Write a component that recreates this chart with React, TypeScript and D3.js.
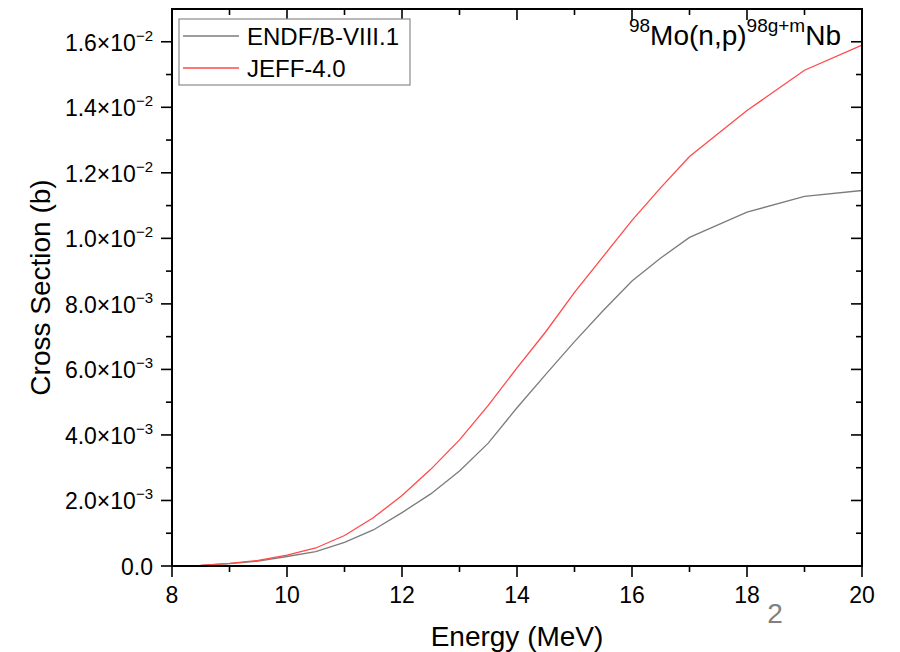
import React from "react";
import * as d3 from "d3";

const energy = [8, 8.5, 9, 9.5, 10, 10.5, 11, 11.5, 12, 12.5, 13, 13.5, 14, 14.5, 15, 15.5, 16, 16.5, 17, 18, 19, 20];
const endf = [0.0, 0.02, 0.07, 0.15, 0.29, 0.44, 0.72, 1.1, 1.63, 2.2, 2.9, 3.75, 4.83, 5.85, 6.85, 7.8, 8.7, 9.4, 10.03, 10.8, 11.28, 11.46].map((v) => v * 1e-3);
const jeff = [0.0, 0.02, 0.08, 0.17, 0.33, 0.55, 0.93, 1.47, 2.15, 2.95, 3.85, 4.9, 6.05, 7.15, 8.35, 9.45, 10.55, 11.55, 12.5, 13.9, 15.13, 15.9].map((v) => v * 1e-3);

const xTicks = [8, 10, 12, 14, 16, 18, 20];
const xMinor = [9, 11, 13, 15, 17, 19];
const yTicks = [0, 0.002, 0.004, 0.006, 0.008, 0.01, 0.012, 0.014, 0.016];
const yTickLabels: [string, string][] = [
  ["0.0", ""],
  ["2.0×10", "−3"],
  ["4.0×10", "−3"],
  ["6.0×10", "−3"],
  ["8.0×10", "−3"],
  ["1.0×10", "−2"],
  ["1.2×10", "−2"],
  ["1.4×10", "−2"],
  ["1.6×10", "−2"],
];
const yMinor = [0.001, 0.003, 0.005, 0.007, 0.009, 0.011, 0.013, 0.015];

const seriesNames = ["ENDF/B-VIII.1", "JEFF-4.0"];
const seriesColors = ["#7c7c7c", "#ff4a4a"];

const FONT = "Arial, 'Liberation Sans', Helvetica, sans-serif";

export default function App() {
  const L = 172, R = 862, T = 9, B = 566;
  const x = d3.scaleLinear().domain([8, 20]).range([L, R]);
  const y = d3.scaleLinear().domain([0, 0.017]).range([B, T]);
  const line = d3
    .line<number>()
    .x((_, i) => x(energy[i]))
    .y((d) => y(d));
  const series = [endf, jeff];

  return (
    <svg width={900} height={652} style={{ position: "absolute", left: 0, top: 0, background: "#fff" }} fontFamily={FONT}>
      <rect x={0} y={0} width={900} height={652} fill="#fff" />
      {/* curves */}
      {series.map((s, i) => (
        <path key={i} d={line(s) || ""} fill="none" stroke={seriesColors[i]} strokeWidth={1.3} />
      ))}
      {/* frame */}
      <rect x={L} y={T} width={R - L} height={B - T} fill="none" stroke="#000" strokeWidth={2} />
      {/* x ticks bottom (outward) and top (inward) */}
      {xTicks.map((t) => (
        <g key={"xt" + t}>
          <line x1={x(t)} x2={x(t)} y1={B} y2={B + 11} stroke="#000" strokeWidth={1.6} />
          <line x1={x(t)} x2={x(t)} y1={T} y2={T + 11} stroke="#000" strokeWidth={1.6} />
          <text x={x(t)} y={603} fontSize={23} textAnchor="middle" fill="#000">
            {t}
          </text>
        </g>
      ))}
      {xMinor.map((t) => (
        <g key={"xm" + t}>
          <line x1={x(t)} x2={x(t)} y1={B} y2={B + 6} stroke="#000" strokeWidth={1.6} />
          <line x1={x(t)} x2={x(t)} y1={T} y2={T + 6} stroke="#000" strokeWidth={1.6} />
        </g>
      ))}
      {/* y ticks left (outward) and right (inward) */}
      {yTicks.map((t, i) => (
        <g key={"yt" + i}>
          <line x1={L - 11} x2={L} y1={y(t)} y2={y(t)} stroke="#000" strokeWidth={1.6} />
          <line x1={R - 11} x2={R} y1={y(t)} y2={y(t)} stroke="#000" strokeWidth={1.6} />
          <text x={153} y={y(t) + 9} fontSize={23} textAnchor="end" fill="#000">
            <tspan>{yTickLabels[i][0]}</tspan>
            {yTickLabels[i][1] && (
              <tspan dy={-10} fontSize={15}>
                {yTickLabels[i][1]}
              </tspan>
            )}
          </text>
        </g>
      ))}
      {yMinor.map((t, i) => (
        <g key={"ym" + i}>
          <line x1={L - 6} x2={L} y1={y(t)} y2={y(t)} stroke="#000" strokeWidth={1.6} />
          <line x1={R - 6} x2={R} y1={y(t)} y2={y(t)} stroke="#000" strokeWidth={1.6} />
        </g>
      ))}
      {/* axis titles */}
      <text x={(L + R) / 2} y={646} fontSize={28} textAnchor="middle" fill="#000">
        Energy (MeV)
      </text>
      <text transform={`translate(50, ${(T + B) / 2}) rotate(-90)`} x={0} y={0} fontSize={28} textAnchor="middle" fill="#000">
        Cross Section (b)
      </text>
      {/* title */}
      <text x={841} y={45} fontSize={28} textAnchor="end" fill="#000">
        <tspan fontSize={19} dy={-13}>98</tspan>
        <tspan dy={13}>Mo(n,p)</tspan>
        <tspan fontSize={19} dy={-13}>98g+m</tspan>
        <tspan dy={13}>Nb</tspan>
      </text>
      {/* legend */}
      <rect x={179} y={19} width={231} height={66} fill="#fff" stroke="#8a8a8a" strokeWidth={1.2} />
      {seriesNames.map((n, i) => (
        <g key={n}>
          <line x1={183} x2={239} y1={36 + i * 32} y2={36 + i * 32} stroke={seriesColors[i]} strokeWidth={1.3} />
          <text x={247} y={45 + i * 32} fontSize={24} fill="#000">
            {n}
          </text>
        </g>
      ))}
      {/* page number artifact */}
      <text x={775} y={623} fontSize={28} textAnchor="middle" fill="#808080">
        2
      </text>
    </svg>
  );
}
